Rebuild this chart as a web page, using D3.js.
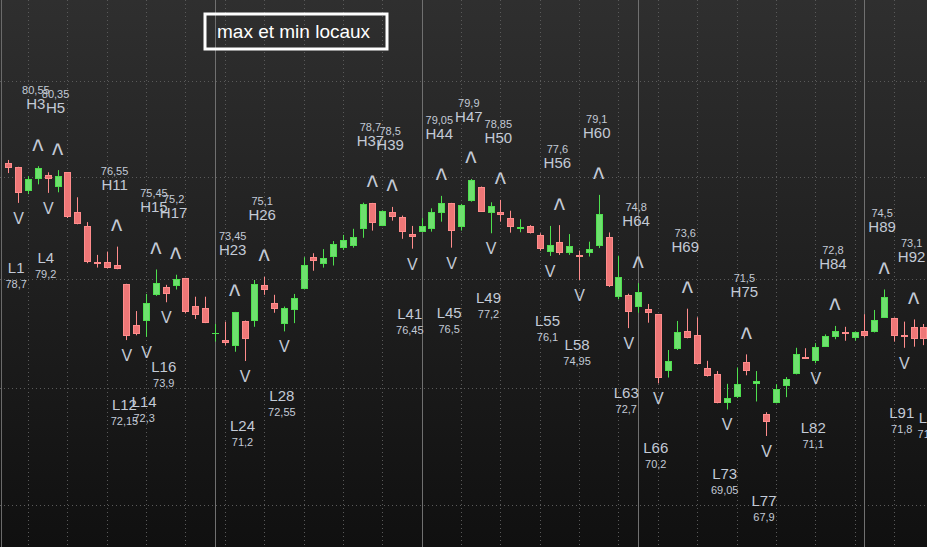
<!DOCTYPE html>
<html><head><meta charset="utf-8">
<script src="https://cdn.jsdelivr.net/npm/d3@7"></script>
<style>html,body{margin:0;padding:0;background:#1e1e1e;overflow:hidden}</style>
</head><body>
<svg id="c" width="927" height="547"></svg>
<script>
// ---- data ----
const bars = d3.range(0, 95);
const opens  = [80.71,80.5,79.31,79.88,80.1,79.48,80.24,78.23,77.58,75.82,75.79,75.65,74.76,72.84,73.01,74.25,74.61,74.68,75.03,73.74,73.62,72.47,72.17,71.87,73.03,73.01,74.72,73.86,72.88,73.52,74.51,76.04,75.7,76.04,76.5,76.58,77.4,78.7,77.58,78.23,77.99,77.16,77.28,77.4,78.18,78.68,77.53,78.81,79.51,78.18,78.25,77.94,77.4,77.56,77.12,76.27,76.79,76.22,76.15,76.22,76.58,77.04,74.14,74.25,73.7,73.58,73.34,70.77,71.75,72.57,72.38,70.88,70.61,69.35,69.59,71.15,70.17,68.85,69.33,70.1,70.61,71.38,71.22,71.85,72.3,72.51,72.24,72.58,72.51,73.18,73.18,72.38,72.74,72.74,72.2];
const highs  = [80.87,80.52,80.05,80.55,80.24,80.35,80.25,78.98,77.75,76.15,76.31,76.55,74.77,73.49,74.29,75.45,74.72,75.2,75.05,74.16,74.16,72.89,73.0,73.45,73.05,74.95,75.1,74.25,73.7,74.29,76.04,76.23,76.43,76.82,77.12,77.42,78.71,78.7,78.33,78.5,78.07,77.56,77.94,78.43,79.05,78.7,78.65,79.9,79.52,78.73,78.85,78.31,77.89,77.6,77.2,77.56,77.6,77.16,76.36,76.79,79.1,77.24,76.11,74.3,74.8,73.82,73.35,71.7,73.03,73.6,73.2,71.21,70.75,70.18,70.91,71.5,70.75,68.93,70.17,70.48,71.8,71.78,72.01,72.41,72.8,72.76,72.55,73.34,73.54,74.5,73.19,73.0,73.1,72.89,72.5];
const lows   = [80.2,78.7,79.14,79.63,79.2,79.23,77.95,77.64,75.75,75.54,75.5,75.46,72.15,72.37,72.3,74.2,73.9,74.5,73.38,73.12,72.93,72.08,71.9,71.62,71.2,72.76,74.25,73.41,72.55,72.93,74.5,75.39,75.54,75.64,76.39,76.5,76.98,77.33,77.55,77.82,76.93,76.45,77.28,77.28,77.77,76.5,77.33,78.76,78.25,77.2,77.77,77.23,77.25,77.19,76.35,76.1,76.15,76.15,74.95,76.07,76.48,74.62,74.04,72.7,73.41,72.95,70.2,70.46,71.7,72.23,71.05,70.5,69.32,69.05,69.55,70.56,69.4,67.9,69.32,69.59,70.6,71.29,71.1,71.84,72.19,72.12,72.12,72.27,72.5,73.17,72.08,71.8,71.85,71.92,71.55];
const closes = [80.46,79.18,79.88,80.44,79.88,80.05,77.99,77.65,75.82,75.74,75.51,75.47,72.32,72.43,73.86,74.79,74.28,74.98,73.43,73.3,72.95,72.47,72.01,73.45,72.19,74.76,74.46,73.58,73.62,74.09,75.66,75.84,75.99,76.66,76.87,77.0,78.63,77.7,78.31,77.99,77.25,77.04,77.56,78.23,78.68,77.33,78.58,79.85,78.26,78.54,78.1,77.53,77.51,77.2,76.42,76.63,76.22,76.58,76.04,76.42,78.13,74.65,75.08,73.46,74.38,73.38,70.43,71.21,72.51,72.24,71.06,70.51,69.33,69.55,70.17,70.74,70.31,68.49,69.96,70.39,71.52,71.29,71.82,72.33,72.58,72.43,72.54,72.33,73.06,74.16,72.33,72.3,72.19,72.19,71.7];
const highIdx = [3,5,11,15,17,23,26,37,39,44,47,50,56,60,64,69,75,84,89,92];
const lowIdx  = [1,4,12,14,16,24,28,41,45,49,55,58,63,66,73,77,82,91,94];
const gridPrices = [85,80,75,70,65];
const monthStarts = [21,42,64,87];
const gridEvery = 4, gridStart = 2;
const title = "max et min locaux";

// ---- layout ----
const W = 927, H = 547;
const svg = d3.select("#c");
const x = d3.scaleLinear().domain([-0.85, 93.36]).range([0, W]);
const y = d3.scaleLog().domain([89.49, 63.29]).range([0, H]);
const fmt = v => String(v).replace(".", ",");
const X = i => Math.round(x(i));

const defs = svg.append("defs");
const g = defs.append("linearGradient").attr("id","bg").attr("x1",0).attr("y1",0).attr("x2",0).attr("y2",1);
g.append("stop").attr("offset","0%").attr("stop-color","#2f2f2f");
g.append("stop").attr("offset","100%").attr("stop-color","#101010");
const clip = defs.append("clipPath").attr("id","clip");
clip.append("rect").attr("width",W).attr("height",H);

svg.append("rect").attr("width",W).attr("height",H).attr("fill","url(#bg)");

const root = svg.append("g").attr("clip-path","url(#clip)");

// dotted grid
root.append("g").selectAll("line").data(gridPrices).join("line")
  .attr("x1",0).attr("x2",W)
  .attr("y1",d=>Math.round(y(d))+0.5).attr("y2",d=>Math.round(y(d))+0.5)
  .attr("stroke","#5a5a5a").attr("stroke-dasharray","1,3");
const vgrid = bars.filter(i => (i - gridStart) % gridEvery === 0 && i >= gridStart);
root.append("g").selectAll("line").data(vgrid).join("line")
  .attr("x1",d=>X(d)+0.5).attr("x2",d=>X(d)+0.5).attr("y1",0).attr("y2",H)
  .attr("stroke","#5a5a5a").attr("stroke-dasharray","1,3");
// month separators
root.append("g").selectAll("line").data(monthStarts).join("line")
  .attr("x1",d=>X(d)+0.5).attr("x2",d=>X(d)+0.5).attr("y1",0).attr("y2",H)
  .attr("stroke","#707070");
root.append("line").attr("x1",1.5).attr("x2",1.5).attr("y1",0).attr("y2",H).attr("stroke","#6a6a6a");

// candles
const up = {stroke:"#4ee04e", fill:"#6ee06e"};
const dn = {stroke:"#ff8c8c", fill:"#ee7777"};
const cg = root.append("g");
bars.forEach(i => {
  const o = opens[i], c = closes[i], hi = highs[i], lo = lows[i];
  const col = c >= o ? up : dn;
  const cx = X(i);
  cg.append("line").attr("x1",cx+0.5).attr("x2",cx+0.5)
    .attr("y1",y(hi)).attr("y2",y(lo)).attr("stroke",col.stroke);
  const top = Math.round(y(Math.max(o,c))), bot = Math.round(y(Math.min(o,c)));
  if (Math.abs(o - c) < 1e-9) {
    cg.append("line").attr("x1",cx-3).attr("x2",cx+4)
      .attr("y1",top+0.5).attr("y2",top+0.5).attr("stroke",col.stroke);
  } else {
    cg.append("rect").attr("x",cx-3+0.5).attr("y",top+0.5)
      .attr("width",6).attr("height",Math.max(1,bot-top-1))
      .attr("fill",col.fill).attr("stroke",col.stroke);
  }
});

// labels
const lab = root.append("g").attr("font-family","'Liberation Sans', Arial, sans-serif").attr("fill","#c3cad6");
highIdx.forEach(i => {
  const cx = x(i), yh = y(highs[i]);
  lab.append("text").attr("transform",`translate(${cx},${yh-5.5}) scale(1,1.3)`)
    .attr("text-anchor","middle").attr("font-size",24).text("^");
  lab.append("text").attr("x",cx-2).attr("y",yh-57).attr("text-anchor","middle").attr("font-size",15).text("H"+i);
  lab.append("text").attr("x",cx-2).attr("y",yh-72).attr("text-anchor","middle").attr("font-size",11).text(fmt(highs[i]));
});
lowIdx.forEach(i => {
  const cx = x(i), yl = y(lows[i]);
  lab.append("text").attr("x",cx+0.5).attr("y",yl+21).attr("text-anchor","middle").attr("font-size",16).text("V");
  lab.append("text").attr("x",cx-2).attr("y",yl+70).attr("text-anchor","middle").attr("font-size",15).text("L"+i);
  lab.append("text").attr("x",cx-2).attr("y",yl+85).attr("text-anchor","middle").attr("font-size",11).text(fmt(lows[i]));
});

// title box
svg.append("rect").attr("x",205).attr("y",14).attr("width",182).attr("height",35)
  .attr("fill","none").attr("stroke","#ffffff").attr("stroke-width",3);
svg.append("text").attr("x",217).attr("y",38).attr("font-family","'Liberation Sans', Arial, sans-serif")
  .attr("font-size",19).attr("fill","#ffffff").text(title);
</script>
</body></html>
